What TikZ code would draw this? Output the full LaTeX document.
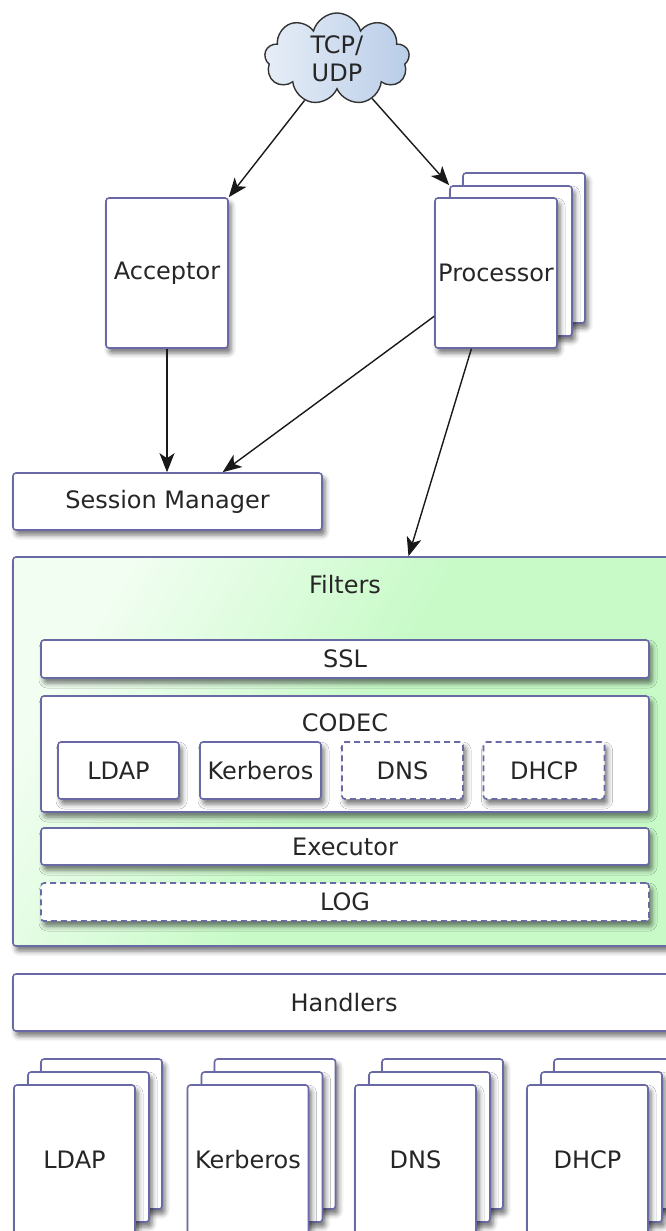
\documentclass[tikz,border=0pt]{standalone}
\usepackage{fontspec}
\setmainfont{DejaVu Sans}
\usetikzlibrary{arrows.meta,shapes.symbols,shadows.blur}
\definecolor{boxline}{RGB}{105,105,165}
\definecolor{fgreen}{RGB}{200,250,200}
\definecolor{cloudblue}{RGB}{185,205,232}

\begin{document}
\begin{tikzpicture}[x=1pt, y=-1pt,
    font=\fontsize{24}{28}\selectfont, text=black!85,
    box/.style={draw=boxline, line width=1.6pt, rounded corners=3pt, fill=white, inner sep=0pt,
      blur shadow={shadow xshift=3pt, shadow yshift=-5pt, shadow blur radius=5pt, shadow opacity=55}},
    dashbox/.style={box, dash pattern=on 6pt off 4pt},
    bar/.style={box, minimum width=608pt, minimum height=38pt},
    page/.style={box, minimum width=121pt, minimum height=150pt},
    arr/.style={-{Stealth[length=19pt,width=15pt,inset=5pt]}, line width=1.4pt, draw=black!90}]
  \useasboundingbox (0,0) rectangle (666,1231);
  \clip (0,0) rectangle (666,1231);

  % top: network, acceptor, processors
  \node[cloud, cloud puffs=9, cloud ignores aspect, draw=black!80, line width=1.4pt,
    left color=cloudblue!35!white, right color=cloudblue, minimum width=145pt,
    minimum height=92pt, align=center, inner sep=0pt] (tcp) at (337,59) {TCP/\\UDP};
  \node[box, minimum width=122pt, minimum height=150pt] (acceptor) at (167,273) {Acceptor};
  \node[page, minimum width=122pt] (procback) at (524,248) {};
  \node[page, minimum width=122pt] (procmid) at (511,261) {};
  \node[page, minimum width=122pt] (proc) at (496,273) {Processor};
  \node[box, minimum width=309pt, minimum height=57pt] (session) at (167.5,501.5) {Session Manager};

  % filter chain
  \node[box, fill=none, left color=fgreen!25!white, right color=fgreen, middle color=fgreen,
    shading angle=60, minimum width=664pt, minimum height=389pt] (filters) at (345,751.5) {};
  \node (filterstitle) at (345,585) {Filters};
  \node[bar] (ssl) at (345,659) {SSL};
  \node[bar, minimum height=116pt] (codec) at (345,754) {};
  \node (codectitle) at (345,723) {CODEC};
  \foreach \x/\n/\t/\s in {118.5/cldap/LDAP/box, 260.5/ckrb/Kerberos/box,
      402.5/cdns/DNS/dashbox, 544/cdhcp/DHCP/dashbox}
    \node[\s, minimum width=121pt, minimum height=57pt] (\n) at (\x,770.5) {\t};
  \node[bar, minimum height=37pt] (exec) at (345,846.5) {Executor};
  \node[dashbox, minimum width=608pt, minimum height=38pt] (log) at (345,902) {LOG};

  % handlers
  \node[box, minimum width=662pt, minimum height=57pt] (handlers) at (344,1002.5) {Handlers};
  \foreach \x/\n/\t in {74.5/ldap/LDAP, 248/krb/Kerberos, 415.5/dns/DNS, 587.5/dhcp/DHCP} {
    \node[page] (\n back) at (\x+27,1134) {};
    \node[page] (\n mid) at (\x+14,1147) {};
    \node[page] (\n) at (\x,1160) {\t};
  }

  \draw[arr] (tcp) -- (acceptor.north east);
  \draw[arr] (tcp) -- (procmid.north west);
  \draw[arr] (acceptor.south) -- (acceptor.south |- session.north);
  \draw[arr] (proc.215) -- (session.28);
  \draw[arr] (proc.252) -- (filters.72);
\end{tikzpicture}
\end{document}
